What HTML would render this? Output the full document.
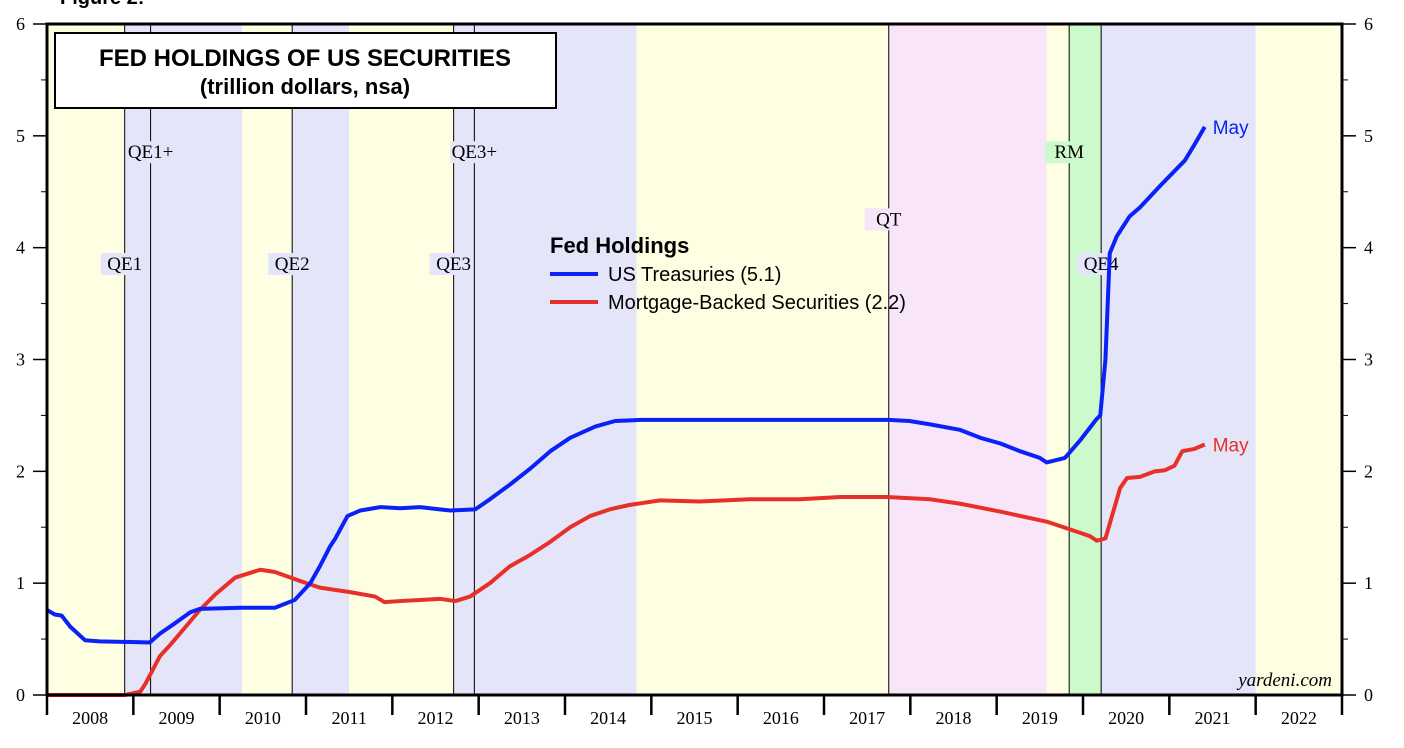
<!DOCTYPE html>
<html><head><meta charset="utf-8"><style>
body{margin:0;background:#fff;}
svg{display:block;font-family:"Liberation Serif",serif;}
.sans{font-family:"Liberation Sans",sans-serif;}
</style></head><body>
<svg id="chart" width="1404" height="748" xmlns="http://www.w3.org/2000/svg">
<text x="60" y="4" class="sans" font-size="20" font-weight="bold">Figure 2:</text>
<g id="bands"></g>
<g id="vlines"></g>
<g id="series"></g>
<g id="axes"></g>
<rect x="55" y="33" width="501" height="75" fill="#fff" stroke="#000" stroke-width="2"/>
<text x="305" y="66" text-anchor="middle" class="sans" font-size="24" font-weight="bold">FED HOLDINGS OF US SECURITIES</text>
<text x="305" y="94" text-anchor="middle" class="sans" font-size="22" font-weight="bold">(trillion dollars, nsa)</text>
<g>
<text x="550" y="253" class="sans" font-size="22" font-weight="bold">Fed Holdings</text>
<line x1="550" y1="274" x2="598" y2="274" stroke="#0a22f5" stroke-width="4"/>
<text x="608" y="281" class="sans" font-size="20">US Treasuries (5.1)</text>
<line x1="550" y1="302" x2="598" y2="302" stroke="#e8302a" stroke-width="4"/>
<text x="608" y="309" class="sans" font-size="20">Mortgage-Backed Securities (2.2)</text>
</g>
<text x="1332" y="686" text-anchor="end" font-size="19" font-style="italic">yardeni.com</text>
</svg>
<script>
const yearTicks=[2008,2009,2010,2011,2012,2013,2014,2015,2016,2017,2018,2019,2020,2021,2022];
const yTicks=[0,1,2,3,4,5,6];
const bandStarts=[2008.0,2008.9,2010.26,2010.84,2011.5,2012.71,2014.83,2017.75,2019.58,2019.84,2020.21,2022.0];
const bandEnds=[2008.9,2010.26,2010.84,2011.5,2012.71,2014.83,2017.75,2019.58,2019.84,2020.21,2022.0,2023.0];
const bandColors=["#fefee3","#e5e5fa","#fefee3","#e5e5fa","#fefee3","#e5e5fa","#fefee3","#f8e5fa","#fefee3","#ccfacc","#e5e5fa","#fefee3"];
const eventYears=[2008.9,2009.2,2010.84,2012.71,2012.95,2017.75,2019.84,2020.21];
const eventLabels=["QE1","QE1+","QE2","QE3","QE3+","QT","RM","QE4"];
const eventLabelValues=[3.8,4.8,3.8,3.8,4.8,4.2,4.8,3.8];
const tDates=[2008.00,2008.09,2008.17,2008.27,2008.44,2008.61,2009.19,2009.31,2009.48,2009.66,2009.77,2010.24,2010.64,2010.87,2011.05,2011.16,2011.28,2011.34,2011.48,2011.63,2011.86,2012.09,2012.32,2012.55,2012.67,2012.96,2013.13,2013.36,2013.59,2013.83,2014.06,2014.35,2014.58,2014.87,2015.56,2016.72,2017.75,2017.99,2018.23,2018.58,2018.81,2019.04,2019.27,2019.50,2019.58,2019.79,2019.97,2020.16,2020.20,2020.26,2020.31,2020.39,2020.54,2020.66,2020.89,2021.18,2021.29,2021.41];
const tVals=[0.76,0.72,0.71,0.61,0.49,0.48,0.47,0.55,0.64,0.74,0.77,0.78,0.78,0.85,1.0,1.15,1.33,1.4,1.6,1.65,1.68,1.67,1.68,1.66,1.65,1.66,1.75,1.88,2.02,2.18,2.3,2.4,2.45,2.46,2.46,2.46,2.46,2.45,2.42,2.37,2.3,2.25,2.18,2.12,2.08,2.12,2.28,2.47,2.5,3.0,3.95,4.1,4.28,4.36,4.55,4.78,4.92,5.08];
const mDates=[2008.00,2008.9,2009.08,2009.14,2009.31,2009.43,2009.54,2009.77,2009.95,2010.18,2010.47,2010.64,2010.93,2011.16,2011.51,2011.80,2011.91,2012.09,2012.32,2012.55,2012.73,2012.90,2013.13,2013.36,2013.59,2013.83,2014.06,2014.29,2014.52,2014.75,2015.10,2015.56,2016.14,2016.72,2017.19,2017.75,2018.23,2018.58,2019.04,2019.58,2019.97,2020.08,2020.16,2020.26,2020.43,2020.51,2020.66,2020.83,2020.95,2021.06,2021.15,2021.29,2021.41];
const mVals=[0,0,0.03,0.1,0.35,0.45,0.55,0.76,0.9,1.05,1.12,1.1,1.02,0.96,0.92,0.88,0.83,0.84,0.85,0.86,0.84,0.88,1.0,1.15,1.25,1.37,1.5,1.6,1.66,1.7,1.74,1.73,1.75,1.75,1.77,1.77,1.75,1.71,1.64,1.55,1.45,1.42,1.38,1.4,1.85,1.94,1.95,2.0,2.01,2.05,2.18,2.2,2.24];

const L=47,R=1342,T=24,B=695,NS="http://www.w3.org/2000/svg";
const x=y=>L+(y-2008)*(R-L)/15;
const yv=v=>B-v*(B-T)/6;
function mk(tag,attrs,parent){const e=document.createElementNS(NS,tag);for(const k in attrs)e.setAttribute(k,attrs[k]);document.getElementById(parent).appendChild(e);return e;}
bandStarts.forEach((s,i)=>{
 const r=mk("rect",{x:x(s),y:T,width:x(bandEnds[i])-x(s),height:B-T,fill:bandColors[i]},"bands");
 
 
});
eventYears.forEach((e,i)=>{
 const ln=mk("line",{x1:x(e),x2:x(e),y1:T,y2:B,stroke:"#000","stroke-width":1},"vlines");
 
 
 const ly=yv(eventLabelValues[i]);
 const idx=bandStarts.findIndex((s,j)=>e>=s&&e<bandEnds[j]);
 const bg=mk("rect",{x:x(e)-24,y:ly-17,width:48,height:22,fill:bandColors[idx]||"#fff"},"vlines");
 
 
 const t=mk("text",{x:x(e),y:ly,"text-anchor":"middle","font-size":19},"vlines");
 t.textContent=eventLabels[i];
 
 
});
function line(ds,vs,col,name){
 const p=mk("polyline",{points:ds.map((d,i)=>x(d)+","+yv(vs[i])).join(" "),fill:"none",stroke:col,"stroke-width":4,"stroke-linejoin":"round"},"series");
 
 
 const t=mk("text",{x:x(ds[ds.length-1])+8,y:yv(vs[vs.length-1])+7,fill:col,"font-size":19,class:"sans"},"series");
 t.textContent="May";
 
 
}
line(mDates,mVals,"#e8302a","mbs-line");
line(tDates,tVals,"#0a22f5","treasuries-line");
const fr=mk("rect",{x:L,y:T,width:R-L,height:B-T,fill:"none",stroke:"#000","stroke-width":3},"axes");


yTicks.forEach(v=>{
 [[L,L-14,L-22,"end"],[R,R+14,R+22,"start"]].forEach(([a,b,tx,an])=>{
  const tk=mk("line",{x1:a,x2:b,y1:yv(v),y2:yv(v),stroke:"#000","stroke-width":1.5},"axes");
  
  
  const t=mk("text",{x:tx,y:yv(v)+6,"text-anchor":an,"font-size":18},"axes");
  t.textContent=v;
  
  
 });
 if(v<6){[[L,L-6],[R,R+6]].forEach(([a,b])=>{
  const m=mk("line",{x1:a,x2:b,y1:yv(v+0.5),y2:yv(v+0.5),stroke:"#000","stroke-width":1},"axes");
  
  
 });}
});
yearTicks.concat([2023]).forEach(yr=>{
 const tk=mk("line",{x1:x(yr),x2:x(yr),y1:B,y2:B+20,stroke:"#000","stroke-width":2.5},"axes");
 
 
});
yearTicks.forEach(yr=>{
 const t=mk("text",{x:x(yr+0.5),y:B+29,"text-anchor":"middle","font-size":18},"axes");
 t.textContent=yr;
 
 
});
</script>
</body></html>
